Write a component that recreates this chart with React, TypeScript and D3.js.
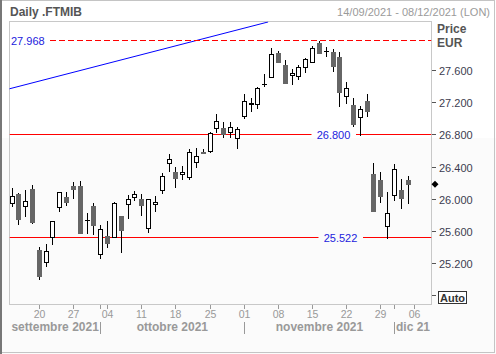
import React from 'react';
import * as d3 from 'd3';

const startDate = '2021-09-14';
const endDate = '2021-12-08';

const openVals = [25.951, 26.070, 25.921, 26.128, 25.374, 25.218, 25.536, 25.901, 26.029, 26.166,
  26.166, 25.740, 25.917, 25.317, 25.544, 25.536, 25.790, 25.942, 26.025, 26.004,
  25.640, 25.938, 26.116, 26.448, 26.343, 26.311, 26.274, 26.460, 26.586, 26.604,
  26.882, 26.882, 26.836, 26.756, 27.029, 27.190, 27.180, 27.427, 27.523, 27.814,
  27.669, 27.541, 27.536, 27.648, 27.710, 27.938, 27.845, 27.826, 27.768, 27.284,
  27.169, 27.019, 27.219, 26.315, 26.236, 25.669, 26.054, 26.112, 26.236];
const highVals = [26.144, 26.075, 26.116, 26.182, 25.412, 25.441, 25.735, 26.095, 26.091, 26.212,
  26.228, 25.834, 25.958, 25.681, 25.734, 25.963, 25.793, 26.054, 26.103, 26.063,
  26.008, 26.041, 26.327, 26.563, 26.405, 26.418, 26.625, 26.641, 26.629, 26.833,
  27.060, 26.957, 26.957, 26.902, 27.305, 27.255, 27.399, 27.557, 27.883, 27.842,
  27.731, 27.619, 27.672, 27.756, 27.905, 27.968, 27.896, 27.861, 27.830, 27.457,
  27.255, 27.159, 27.308, 26.448, 26.336, 26.087, 26.439, 26.249, 26.290];
const lowVals = [25.921, 25.690, 25.797, 25.710, 25.007, 25.176, 25.441, 25.859, 25.926, 26.013,
  25.575, 25.575, 25.566, 25.275, 25.412, 25.530, 25.342, 25.768, 25.992, 25.805,
  25.598, 25.859, 26.082, 26.356, 26.157, 26.256, 26.253, 26.405, 26.572, 26.588,
  26.840, 26.771, 26.778, 26.631, 27.010, 27.097, 27.138, 27.408, 27.520, 27.708,
  27.447, 27.429, 27.491, 27.578, 27.708, 27.812, 27.780, 27.600, 27.165, 27.200,
  26.911, 26.800, 27.039, 25.855, 25.971, 25.522, 25.992, 25.888, 25.951];
const closeVals = [26.038, 25.756, 25.979, 25.715, 25.051, 25.358, 25.731, 26.087, 25.971, 26.132,
  25.578, 25.742, 25.685, 25.628, 25.461, 25.960, 25.613, 26.004, 26.062, 25.933,
  26.004, 25.967, 26.286, 26.497, 26.269, 26.339, 26.584, 26.538, 26.580, 26.820,
  26.977, 26.815, 26.892, 26.877, 27.218, 27.192, 27.379, 27.429, 27.801, 27.710,
  27.449, 27.573, 27.640, 27.739, 27.876, 27.814, 27.847, 27.660, 27.337, 27.387,
  26.936, 27.116, 27.103, 25.859, 26.045, 25.826, 26.373, 26.013, 26.187];

const yTicks = [25.2, 25.6, 26.0, 26.4, 26.8, 27.2, 27.6];
const monthLabels = ['settembre 2021', 'ottobre 2021', 'novembre 2021', 'dic 21'];
const resistanceLevel = 27.968;
const supportLevels = [26.8, 25.522];
const trendIdx = [-0.45, 37.5];
const trendVals = [27.371, 28.203];

const FONT = 'Tahoma, "Liberation Sans", Arial, sans-serif';

export default function App() {
  const W = 496, H = 354;
  const plotL = 9.5, plotR = 431.5, plotT = 21.5, plotB = 304.5;

  const parse = d3.timeParse('%Y-%m-%d');
  const days = d3.timeDay.range(parse(startDate)!, d3.timeDay.offset(parse(endDate)!, 1))
    .filter(d => d.getDay() !== 0 && d.getDay() !== 6);

  const x = d3.scaleLinear().domain([0, days.length - 1]).range([12, 12 + (days.length - 1) * 6.83]);
  const y = d3.scaleLinear().domain([24.699, 28.215]).range([304, 21]);

  const mondays = days.map((d, i) => ({ d, i })).filter(o => o.d.getDay() === 1);
  const monthStarts = days.map((d, i) => ({ d, i })).filter((o, k) => k === 0 || o.d.getMonth() !== days[k - 1].getMonth());
  const fmtDay = d3.timeFormat('%d');

  const candles = openVals.map((o, i) => ({ i, o, h: highVals[i], l: lowVals[i], c: closeVals[i] }));
  const lastClose = closeVals[closeVals.length - 1];

  const trendLine = d3.line<number>().x((_, k) => x(trendIdx[k])).y(v => y(v));
  const ly = (v: number) => Math.floor(y(v)) + 0.5;

  return (
    <svg width={W} height={H} style={{ position: 'absolute', left: 0, top: 0 }} fontFamily={FONT}>
      <defs>
        <clipPath id="plotclip">
          <rect x={plotL} y={plotT} width={plotR - plotL} height={plotB - plotT} />
        </clipPath>
      </defs>
      <rect x={0} y={0} width={W} height={H} fill="#ffffff" />
      <rect x={0} y={138} width={W} height={H - 138} fill="#fbfbfb" />
      <rect x={0.5} y={0.5} width={W - 2} height={H - 2} fill="none" stroke="#c4c4c4" />
      <line x1={1} x2={1} y1={0} y2={H} stroke="#777" strokeWidth={2} />

      <text x={10} y={16} fontSize={12} fontWeight="bold" fill="#555">Daily .FTMIB</text>
      <text x={490} y={16} fontSize={11} fill="#9a9a9a" textAnchor="end">14/09/2021 - 08/12/2021 (LON)</text>

      <rect x={plotL} y={plotT} width={plotR - plotL} height={plotB - plotT} fill="none" stroke="#c8c8c8" />

      <g clipPath="url(#plotclip)">
        <path d={trendLine(trendVals) || ''} fill="none" stroke="#0000ff" strokeWidth={1} />
        <line x1={50} x2={plotR} y1={ly(resistanceLevel)} y2={ly(resistanceLevel)}
          stroke="#ff0000" strokeDasharray="6,3" />
        <line x1={plotL} x2={311.5} y1={ly(supportLevels[0])} y2={ly(supportLevels[0])} stroke="#ff0000" />
        <line x1={356} x2={plotR} y1={ly(supportLevels[0])} y2={ly(supportLevels[0])} stroke="#ff0000" />
        <line x1={plotL} x2={318.5} y1={ly(supportLevels[1])} y2={ly(supportLevels[1])} stroke="#ff0000" />
        <line x1={363} x2={plotR} y1={ly(supportLevels[1])} y2={ly(supportLevels[1])} stroke="#ff0000" />

        {candles.map(cd => {
          const fx = Math.floor(x(cd.i));
          const up = cd.c >= cd.o;
          const yO = Math.round(y(cd.o)), yC = Math.round(y(cd.c));
          const yH = Math.round(y(cd.h)), yL = Math.round(y(cd.l));
          const cross = Math.abs(yO - yC) < 1;
          return (
            <g key={cd.i}>
              <line x1={fx + 0.5} x2={fx + 0.5} y1={yH} y2={yL + 1} stroke={cross && !up ? '#666' : '#000'} />
              {cross ? (
                <line x1={fx - 2} x2={fx + 3} y1={yC + 0.5} y2={yC + 0.5} stroke={up ? '#000' : '#666'} />
              ) : up ? (
                <rect x={fx - 1.5} y={yC + 0.5} width={4} height={yO - yC} fill="#fff" stroke="#000" />
              ) : (
                <rect x={fx - 2} y={yO} width={5} height={Math.max(1, yC - yO + 1)} fill="#666" />
              )}
            </g>
          );
        })}
      </g>

      <text x={11} y={ly(resistanceLevel) + 4.5} fontSize={11} fill="#2222dd">{d3.format('.3f')(resistanceLevel)}</text>
      <text x={333.5} y={ly(supportLevels[0]) + 4.5} fontSize={11} fill="#2222dd" textAnchor="middle">{d3.format('.3f')(supportLevels[0])}</text>
      <text x={340.5} y={ly(supportLevels[1]) + 4.5} fontSize={11} fill="#2222dd" textAnchor="middle">{d3.format('.3f')(supportLevels[1])}</text>

      {/* right axis */}
      <text x={437} y={33} fontSize={12} fontWeight="bold" fill="#555">Price</text>
      <text x={437} y={47} fontSize={12} fontWeight="bold" fill="#555">EUR</text>
      {yTicks.map(t => {
        const ty = Math.floor(y(t)) + 0.5;
        return (
          <g key={t}>
            <line x1={432} x2={436} y1={ty} y2={ty} stroke="#555" />
            <text x={439} y={ty + 4} fontSize={11} fill="#3c3c50">{d3.format('.3f')(t)}</text>
          </g>
        );
      })}
      <line x1={432} x2={436} y1={295.5} y2={295.5} stroke="#555" />
      <rect x={438.5} y={291.5} width={28} height={12} fill="#fff" stroke="#333" />
      <text x={440} y={302} fontSize={11} fontWeight="bold" fill="#333">Auto</text>

      <path d={`M${435},${y(lastClose) - 3.5}L${438.5},${y(lastClose)}L${435},${y(lastClose) + 3.5}L${431.5},${y(lastClose)}Z`} fill="#000" />

      {/* bottom axis */}
      {mondays.map(m => {
        const tx = Math.floor(x(m.i)) + 0.5;
        return (
          <g key={m.i}>
            <line x1={tx} x2={tx} y1={305} y2={309} stroke="#999" />
            <text x={tx} y={318} fontSize={10.5} fill="#999" textAnchor="middle">{fmtDay(m.d)}</text>
          </g>
        );
      })}
      {monthStarts.map((m, k) => {
        const tx = Math.floor(x(m.i)) + 0.5;
        const nextX = k < monthStarts.length - 1 ? x(monthStarts[k + 1].i) : plotR;
        const startX = k === 0 ? plotL : tx;
        return (
          <g key={'m' + k}>
            {k > 0 && <line x1={tx} x2={tx} y1={305} y2={309} stroke="#999" />}
            {k > 0 && <line x1={tx} x2={tx} y1={322} y2={334} stroke="#999" />}
            <text x={(startX + nextX) / 2} y={331} fontSize={12} fontWeight="bold" fill="#999" textAnchor="middle">{monthLabels[k]}</text>
          </g>
        );
      })}
    </svg>
  );
}
